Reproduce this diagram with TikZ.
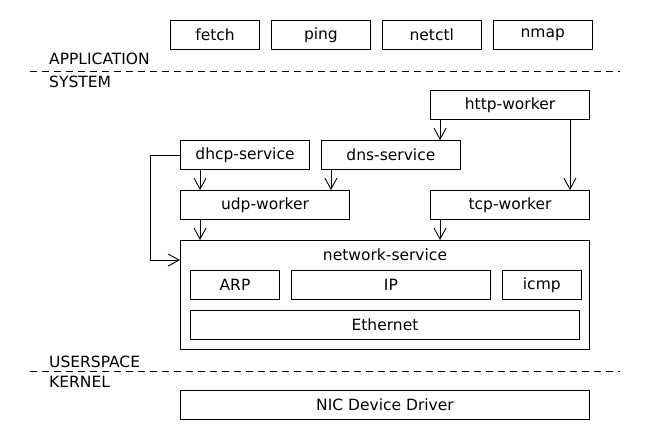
\documentclass[tikz,border=0pt]{standalone}
\usepackage{fontspec}
\setmainfont{DejaVu Sans}
\usetikzlibrary{arrows.meta, positioning}

\begin{document}
\begin{tikzpicture}[
        x=1pt, y=-1pt,
        node distance=11pt and 11pt,
        box/.style={rectangle, draw=black, line width=0.9pt, minimum height=29pt, inner sep=0pt, align=center, font=\fontsize{15.5}{18}\selectfont},
        layer/.style={anchor=base west, inner sep=0pt, font=\fontsize{15.5}{18}\selectfont},
        divider/.style={line width=0.9pt, dash pattern=on 7pt off 5pt},
        arrow/.style={-{Straight Barb[length=11pt, width=12pt]}, line width=0.9pt}
    ]
    \useasboundingbox (0,0) rectangle (660,440);

    % Applications
    \node (fetch) [box, minimum width=89pt] at (215,35) {fetch};
    \node (ping) [box, minimum width=99pt, right=of fetch] {ping};
    \node (netctl) [box, minimum width=99pt, right=of ping] {netctl};
    \node (nmap) [box, minimum width=99pt, right=of netctl] {nmap};

    % Layer dividers
    \node (app) [layer] at (49,64) {APPLICATION};
    \node (sys) [layer] at (49,87) {SYSTEM};
    \draw [divider] (30,71) -- (620,71);

    \node (user) [layer] at (49,367) {USERSPACE};
    \node (kern) [layer] at (49,387) {KERNEL};
    \draw [divider] (30,371) -- (620,371);

    % Services and workers
    \node (http) [box, minimum width=159pt] at (510,105) {http-worker};
    \node (dhcp) [box, minimum width=129pt] at (245,155) {dhcp-service};
    \node (dns) [box, minimum width=139pt, right=of dhcp] {dns-service};
    \node (udp) [box, minimum width=169pt] at (265,205) {udp-worker};
    \node (tcp) [box, minimum width=159pt] at (510,205) {tcp-worker};

    % Network service
    \node (ns) [box, minimum width=409pt, minimum height=109pt] at (385,295) {};
    \node (nslabel) [inner sep=0pt, font=\fontsize{15.5}{18}\selectfont] at (385,255) {network-service};
    \node (arp) [box, minimum width=89pt] at (235,285) {ARP};
    \node (ip) [box, minimum width=199pt, right=of arp] {IP};
    \node (icmp) [box, minimum width=79pt, right=of ip] {icmp};
    \node (eth) [box, minimum width=389pt] at (385,325) {Ethernet};

    % Kernel
    \node (nic) [box, minimum width=409pt] at (385,405) {NIC Device Driver};

    % Connections
    \draw [arrow] ([xshift=10pt]http.south west) -- ([xshift=10pt]http.south west |- dns.north);
    \draw [arrow] ([xshift=-20pt]http.south east) -- ([xshift=-20pt]http.south east |- tcp.north);
    \draw [arrow] ([xshift=20pt]dhcp.south west) -- ([xshift=20pt]dhcp.south west |- udp.north);
    \draw [arrow] ([xshift=10pt]dns.south west) -- ([xshift=10pt]dns.south west |- udp.north);
    \draw [arrow] ([xshift=20pt]udp.south west) -- ([xshift=20pt]udp.south west |- ns.north);
    \draw [arrow] ([xshift=10pt]tcp.south west) -- ([xshift=10pt]tcp.south west |- ns.north);
    \draw [arrow] (dhcp.west) -- ++(-30pt,0) |- ([yshift=-20pt]ns.north west);

\end{tikzpicture}
\end{document}
